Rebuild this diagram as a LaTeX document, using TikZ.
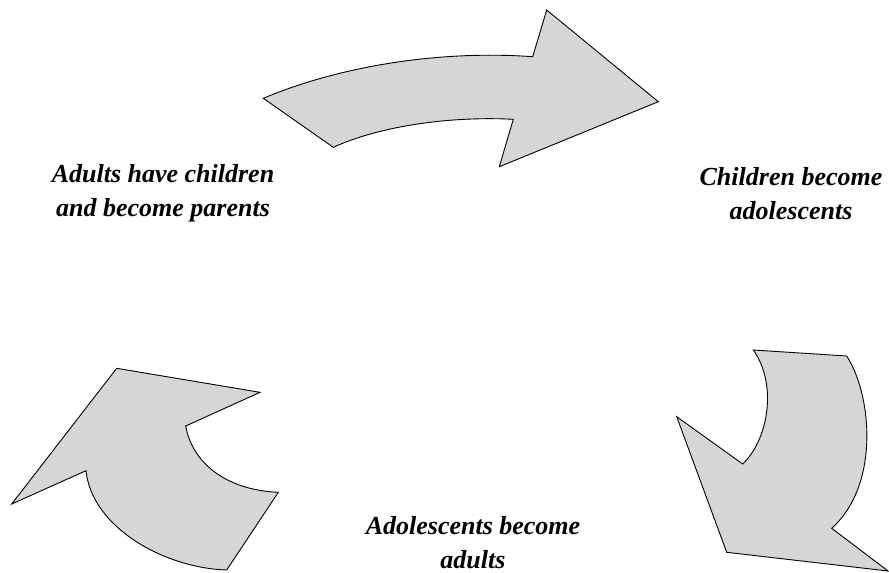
\documentclass[tikz,border=0pt]{standalone}
\usepackage{fontspec}
\setmainfont{Liberation Serif}
\definecolor{arrowfill}{RGB}{214,214,214}
\begin{document}
\begin{tikzpicture}[x=1pt,y=-1pt,
  bigarrow/.style={draw=black,fill=arrowfill,line width=0.9pt,line join=miter},
  caption/.style={align=center,inner sep=0pt,font=\fontsize{26}{34}\selectfont\bfseries\itshape}]
\useasboundingbox (0,0) rectangle (889,573);
% top arrow
\draw[bigarrow] (263.3,98.3) -- (333.3,147.3)
  .. controls (380,126) and (450,116) .. (513.3,119.3)
  -- (499.3,166.7) -- (658.3,101.7) -- (546.7,10) -- (532.7,56.7)
  .. controls (440,50) and (340,66) .. cycle;
% bottom-left arrow
\draw[bigarrow] (116.7,368.3) -- (260,392.3) -- (185.7,426)
  .. controls (192,462) and (225,490) .. (278.3,492.3)
  -- (226.7,570)
  .. controls (165,568) and (92,528) .. (86,470.7)
  -- (11.7,504) -- cycle;
% bottom-right arrow
\draw[bigarrow] (753.3,350) -- (846.7,356)
  .. controls (872,395) and (880,485) .. (831.7,528.3)
  -- (888,571) -- (726.7,552.3) -- (676.7,416.7) -- (742.7,464)
  .. controls (768,440) and (778,385) .. cycle;
\node[caption] (parents) at (163,193.5) {Adults have children\\and become parents};
\node[caption] (adolescents) at (791,193.5) {Children become\\adolescents};
\node[caption] (adults) at (473,543) {Adolescents become\\adults};
\end{tikzpicture}
\end{document}
